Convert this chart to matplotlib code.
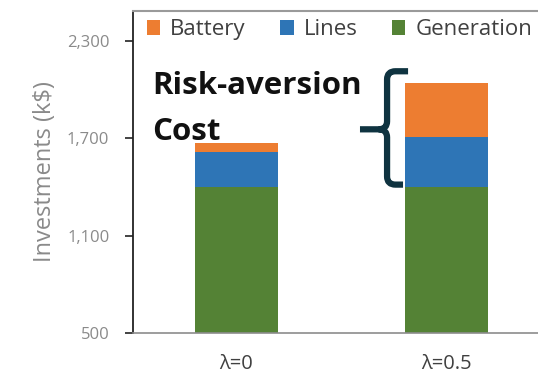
import matplotlib
matplotlib.use('Agg')
import matplotlib.pyplot as plt
from matplotlib.path import Path
from matplotlib.patches import PathPatch

plt.rcParams['font.family'] = ['Open Sans', 'DejaVu Sans']

# data
categories = ['\u03bb=0', '\u03bb=0.5']
generation = [1400, 1400]
lines = [215, 310]
battery = [55, 330]

C_BATT = '#ED7D31'
C_LINES = '#2E75B6'
C_GEN = '#548235'

W, H = 538, 373
fig = plt.figure(figsize=(5.38, 3.73), dpi=100)
ax = fig.add_axes([133 / W, 40 / H, 1 - 133 / W, 322 / H])
ax_w = W - 133

x = list(range(len(categories)))
w = 83 / 210
batt_base = [g + l for g, l in zip(generation, lines)]

ax.bar(x, generation, w, color=C_GEN, label='Generation')
ax.bar(x, lines, w, bottom=generation, color=C_LINES, label='Lines')
ax.bar(x, battery, w, bottom=batt_base, color=C_BATT, label='Battery')

ax.set_xlim(-103.5 / 210, 1 + 91.5 / 210)
ax.set_ylim(500, 500 + 321 * 600 / 97)
ax.set_yticks([500, 1100, 1700, 2300])
ax.set_yticklabels(['500', '1,100', '1,700', '2,300'], color='#8a8a8a', fontsize=12)
ax.set_xticks(x)
ax.set_xticklabels(categories, color='#404040', fontsize=14.5)
ax.tick_params(axis='x', length=0, pad=15)
ax.tick_params(axis='y', length=6, width=1.2, color='#222222', direction='out', pad=11)
ax.set_ylabel('Investments (k$)', color='#8a8a8a', fontsize=17, labelpad=7)

ax.spines['right'].set_visible(False)
ax.spines['left'].set_color('#222222')
ax.spines['left'].set_linewidth(1.3)
ax.spines['bottom'].set_color('#8c8c8c')
ax.spines['bottom'].set_linewidth(1.2)
ax.spines['top'].set_color('#9a9a9a')
ax.spines['top'].set_linewidth(1.5)

handles, labels = ax.get_legend_handles_labels()
ax.legend(handles[::-1], labels[::-1], loc='upper left',
          bbox_to_anchor=((147 - 133) / ax_w, (333 - 19) / 322),
          ncol=3, frameon=False, fontsize=16, borderpad=0, borderaxespad=0,
          handlelength=0.6, handleheight=0.68, handletextpad=0.45,
          columnspacing=1.55, labelcolor='#404040')

ax.text(152, H - 94, 'Risk-aversion', transform=None, fontsize=22.5, fontweight='bold',
        color='#111111', va='baseline')
ax.text(152, H - 140, 'Cost', transform=None, fontsize=22.5, fontweight='bold',
        color='#111111', va='baseline')

# curly brace next to the risk-aversion part of the second bar
top = 2114
bot = 1415
mid = 1756
xs = 0.717
r_x = 0.04
r_y = 50
verts = [
    (0.817, top), (xs + r_x, top), (xs, top), (xs, top - r_y),
    (xs, mid + r_y), (xs, mid), (xs - r_x, mid),
    (0.588, mid),
    (xs - r_x, mid), (xs, mid), (xs, mid - r_y),
    (xs, bot + r_y), (xs, bot), (xs + r_x, bot), (0.793, bot),
]
codes = [Path.MOVETO, Path.LINETO, Path.CURVE3, Path.CURVE3,
         Path.LINETO, Path.CURVE3, Path.CURVE3,
         Path.LINETO,
         Path.MOVETO, Path.CURVE3, Path.CURVE3,
         Path.LINETO, Path.CURVE3, Path.CURVE3, Path.LINETO]
brace = PathPatch(Path(verts, codes), facecolor='none', edgecolor='#0f3340',
                  linewidth=4.5, capstyle='butt', joinstyle='round', clip_on=False)
ax.add_patch(brace)

fig.savefig('out.png', dpi=100)
